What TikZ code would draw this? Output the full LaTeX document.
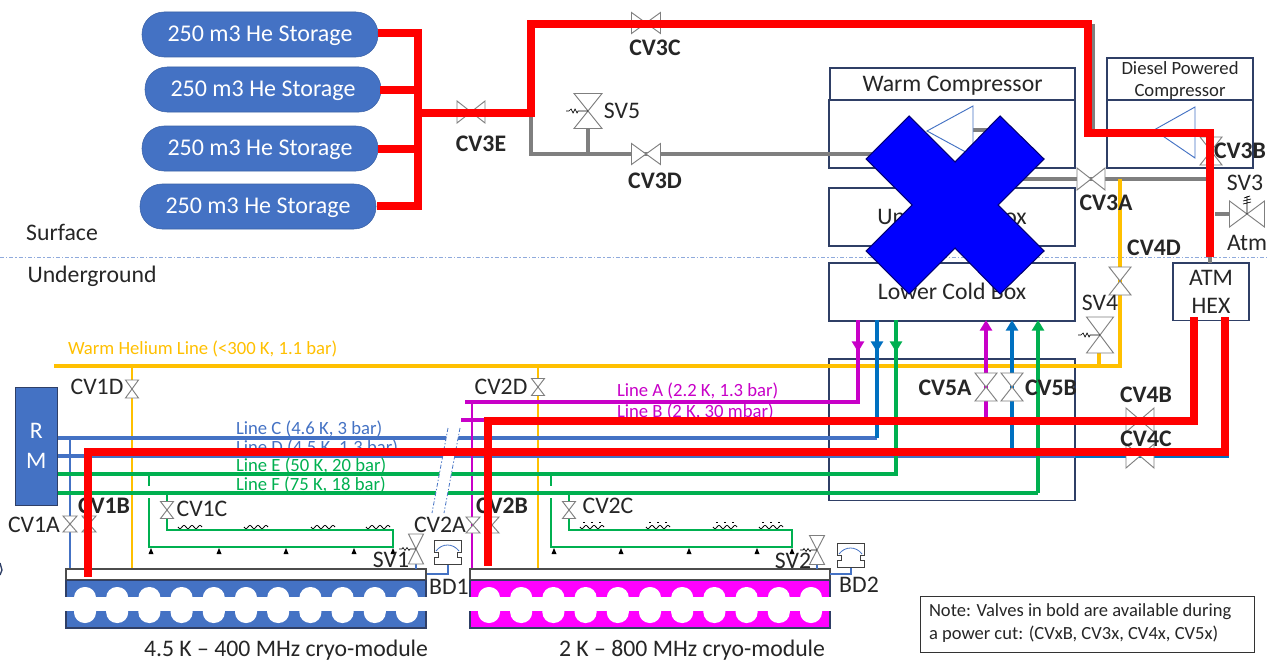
\documentclass[tikz,border=0pt]{standalone}
\usepackage{fontspec}
\setmainfont{Carlito}
\usetikzlibrary{arrows.meta}
\definecolor{cblue}{HTML}{4472C4}
\definecolor{dblue}{HTML}{0070C0}
\definecolor{cgreen}{HTML}{00B050}
\definecolor{cyel}{HTML}{FFC000}
\definecolor{cmag}{HTML}{C800C8}
\definecolor{fmag}{HTML}{FF00FF}
\definecolor{navy}{HTML}{2F3F66}
\definecolor{vgray}{HTML}{7F7F7F}
\definecolor{txt}{HTML}{262626}
\tikzset{
 x=0.75pt,y=-0.75pt,
 every node/.style={inner sep=0pt,outer sep=0pt,text=txt},
 redpipe/.style={draw=red,line width=6pt,line join=miter},
 graypipe/.style={draw=vgray,line width=2.7pt},
 yelpipe/.style={draw=cyel,line width=2.4pt},
 thinyel/.style={draw=cyel,line width=1.5pt},
 bluepipe/.style={draw=cblue,line width=2.4pt},
 dbluepipe/.style={draw=dblue,line width=2.4pt},
 magpipe/.style={draw=cmag,line width=2.4pt},
 greenpipe/.style={draw=cgreen,line width=2.4pt},
 thingreen/.style={draw=cgreen,line width=1.5pt},
 thinblue/.style={draw=cblue,line width=0.8pt},
 thinmag/.style={draw=cmag,line width=1.4pt},
 vlv/.style={draw=vgray,fill=white,line width=0.7pt},
 pbox/.style={draw=navy,fill=white,line width=0.8pt,anchor=north west},
 storage/.style={fill=cblue,draw=cblue!85!black,line width=0.4pt,rounded corners=16.5pt,text=white,font=\fontsize{18}{20}\selectfont,anchor=north west,align=center,text height=12pt,text depth=1pt},
 lbl/.style={font=\fontsize{17.8}{20}\selectfont},
 blbl/.style={font=\bfseries\fontsize{17.8}{20}\selectfont,text=txt},
 ltxt/.style={font=\fontsize{14}{16}\selectfont,yshift=-0.75pt},
 bigt/.style={font=\fontsize{17.8}{20}\selectfont,text height=12pt,text depth=1pt},
 uparrow/.style={-{Triangle[width=9pt,length=8pt]}},
 comp/.style={draw=cblue,fill=white,line width=0.7pt},
 disc/.style={draw=black!75,fill=white,line width=0.7pt},
}
\newcommand{\vh}[5]{\coordinate (#1) at (#2,#3);\draw[vlv] (#2-#4/2,#3-#5/2)--(#2+#4/2,#3+#5/2)--(#2+#4/2,#3-#5/2)--(#2-#4/2,#3+#5/2)--cycle;}
\newcommand{\vv}[5]{\coordinate (#1) at (#2,#3);\draw[vlv] (#2-#4/2,#3-#5/2)--(#2+#4/2,#3-#5/2)--(#2-#4/2,#3+#5/2)--(#2+#4/2,#3+#5/2)--cycle;}
\newcommand{\springleft}[2]{\draw[black,line width=0.5pt] (#1,#2)--(#1-10,#2)--(#1-11,#2+2)--(#1-13,#2-2)--(#1-15,#2+2)--(#1-17,#2-2)--(#1-19,#2)--(#1-22,#2);}
\newcommand{\springsmall}[2]{\draw[black,line width=0.5pt] (#1,#2)--(#1-6,#2)--(#1-7,#2+1.5)--(#1-9,#2-1.5)--(#1-11,#2+1.5)--(#1-13,#2-1.5)--(#1-14,#2)--(#1-17,#2);}
\newcommand{\heater}[2]{\draw[black,line width=0.6pt] plot[variable=\t,domain=0:24,samples=25,smooth] ({#1+\t},{#2+1.6*sin(\t*45)});}
\newcommand{\tick}[2]{\fill[black] (#1-2.5,#2+3)--(#1+2.5,#2+3)--(#1,#2-3)--cycle;}
\newcommand{\burst}[2]{\draw[disc] (#1,#2)--(#1+27,#2)--(#1+27,#2+12)--(#1,#2+12)--cycle;
 \draw[cblue,line width=0.6pt] (#1+2,#2+11) .. controls (#1+8,#2+3) and (#1+19,#2+3) .. (#1+25,#2+11);
 \draw[disc] (#1+4,#2+12)--(#1+4,#2+17)--(#1,#2+17)--(#1,#2+24)--(#1+27,#2+24)--(#1+27,#2+17)--(#1+23,#2+17)--(#1+23,#2+12);}
\begin{document}
\begin{tikzpicture}
\useasboundingbox (0,0) rectangle (1269,660);
\fill[white] (0,0) rectangle (1269,660);
% surface divide
\coordinate (divL) at (0,257); \coordinate (divR) at (1269,257);
\draw[cblue!60,line width=0.7pt,dash pattern=on 3pt off 1.5pt on 1pt off 1.5pt] (divL)--(divR);
\node[bigt] (surf) at (62,233) {Surface};
\node[bigt] (under) at (92,275) {Underground};
% storage
\node[storage,minimum width=177pt,minimum height=33.75pt] (s1) at (142,12) {250 m3 He Storage};
\node[storage,minimum width=177pt,minimum height=33.75pt] (s2) at (145,67) {250 m3 He Storage};
\node[storage,minimum width=177pt,minimum height=33.75pt] (s3) at (142,126) {250 m3 He Storage};
\node[storage,minimum width=177pt,minimum height=33.75pt] (s4) at (140,184) {250 m3 He Storage};
% boxes
\node[pbox,bigt,minimum width=183.75pt,minimum height=24pt] (wc) at (830,68) {Warm Compressor};
\node[pbox,minimum width=184.5pt,minimum height=51pt] (wcb) at (829,100) {};
\node[pbox,bigt,minimum width=184.5pt,minimum height=43.5pt] (ucb) at (829,188) {Upper Cold Box};
\node[pbox,bigt,minimum width=184.5pt,minimum height=43.5pt] (lcb) at (829,263) {Lower Cold Box};
\node[pbox,minimum width=109.5pt,minimum height=31.5pt,align=center,font=\fontsize{14}{16.5}\selectfont] (dc) at (1107,58) {\rule{0pt}{12pt}Diesel Powered\\Compressor};
\node[pbox,minimum width=109.5pt,minimum height=51pt] (dcb) at (1107,100) {};
\node[pbox,minimum width=57pt,minimum height=43pt,align=center,font=\fontsize{17.8}{21}\selectfont] (atm) at (1173,263) {ATM\\HEX};
\node[pbox,fill=none,minimum width=184.5pt,minimum height=106pt] (lowbox) at (829,359) {};
\node[draw=black!80,line width=0.6pt,minimum width=251pt,minimum height=42pt,anchor=north west,fill=white] (note) at (920,596) {};
\node[anchor=west,align=left,font=\fontsize{13.9}{17.2}\selectfont] (notetxt) at (929,623) {Note: Valves in bold are available during\\a power cut: (CVxB, CV3x, CV4x, CV5x)};
% gray pipes
\coordinate (g1) at (531,113); \coordinate (g2) at (531,154); \coordinate (g3) at (905,154);
\coordinate (g4) at (588,154); \coordinate (g5) at (588,128);
\coordinate (g6) at (960,130); \coordinate (g7) at (1000,130);
\coordinate (g8) at (1000,179); \coordinate (g9) at (1210,179);
\coordinate (g10) at (1093,24); \coordinate (g11) at (1093,133);
\coordinate (g12) at (1210,257);
\coordinate (g14) at (1215,214); \coordinate (g15) at (1232,214);
\draw[graypipe] (g1)--(g2)--(g3);
\draw[graypipe] (g4)--(g5);
\draw[graypipe] (g6)--(g7);
\draw[graypipe] (g8)--(g9);
\draw[graypipe] (g10)--(g11);
\draw[graypipe] (g12)--(atm.north -| g12);
\draw[graypipe] (g14)--(g15);
% compressors
\coordinate (t1) at (927,131); \coordinate (t2) at (973,106); \coordinate (t3) at (973,156);
\draw[comp] (t1)--(t2)--(t3)--cycle;
\coordinate (t4) at (1154,130); \coordinate (t5) at (1195,107); \coordinate (t6) at (1195,158);
\draw[comp] (t4)--(t5)--(t6)--cycle;
% yellow
\coordinate (y1) at (54,366); \coordinate (y2) at (1120,366); \coordinate (y3) at (1120,179);
\coordinate (y4) at (132,366); \coordinate (y5) at (132,569);
\coordinate (y6) at (538,366); \coordinate (y7) at (538,568);
\coordinate (y8) at (1099,366); \coordinate (y9) at (1099,350);
\draw[yelpipe] (y1)--(y2)--(y3);
\draw[thinyel] (y4)--(y5);
\draw[thinyel] (y6)--(y7);
\draw[yelpipe] (y8)--(y9);
% blue line C, D
\coordinate (c1) at (58,438); \coordinate (c2) at (877,438); \coordinate (c3) at (877,320); \coordinate (c3a) at (877,352);
\coordinate (d1) at (58,456); \coordinate (d2) at (1227,456); \coordinate (d3) at (1227,450);
\coordinate (d4) at (1012,456); \coordinate (d5) at (1012,320);
\draw[bluepipe] (c1)--(c2);
\draw[dbluepipe] (c2)--(c3);
\draw[dbluepipe,uparrow] (c3)--(c3a);
\draw[bluepipe] (d1)--(d2);
\draw[dbluepipe] (1075,456)--(d2)--(d3);
\draw[dbluepipe,uparrow] (d4)--(d5);
\coordinate (b1) at (70,438); \coordinate (b2) at (70,575);
\draw[thinblue,line width=1pt] (b1)--(b2);
% magenta
\coordinate (m1) at (465,402); \coordinate (m2) at (858,402); \coordinate (m3) at (858,320); \coordinate (m3a) at (858,352);
\coordinate (m4) at (461,420); \coordinate (m5) at (986,420); \coordinate (m6) at (986,320);
\coordinate (m7) at (472,402); \coordinate (m8) at (472,572);
\draw[magpipe] (m1)--(m2)--(m3);
\draw[magpipe,uparrow] (m3)--(m3a);
\draw[magpipe] (m4)--(m5);
\draw[magpipe,uparrow] (m5)--(m6);
\draw[thinmag] (m7)--(m8);
% green
\coordinate (e1) at (58,474); \coordinate (e2) at (896,474); \coordinate (e3) at (896,320); \coordinate (e3a) at (896,352);
\coordinate (f1) at (58,493); \coordinate (f2) at (1038,493); \coordinate (f3) at (1038,320);
\draw[greenpipe] (e1)--(e2)--(e3);
\draw[greenpipe,uparrow] (e3)--(e3a);
\draw[greenpipe] (f1)--(f2);
\draw[greenpipe,uparrow] (f2)--(f3);
% green circuits CM1
\coordinate (p1) at (149,474); \coordinate (p2) at (149,486); \coordinate (p3) at (149,498); \coordinate (p4) at (149,547);
\coordinate (p5) at (393,547); \coordinate (p6) at (393,530); \coordinate (p7) at (167,530); \coordinate (p8) at (167,493);
\draw[thingreen] (p1)--(p2);
\draw[thingreen] (p3)--(p4)--(p5)--(p6)--(p7)--(p8);
% CM2
\coordinate (q1) at (551,474); \coordinate (q2) at (551,486); \coordinate (q3) at (551,498); \coordinate (q4) at (551,547);
\coordinate (q5) at (792,547); \coordinate (q6) at (792,530); \coordinate (q7) at (569,530); \coordinate (q8) at (569,493);
\draw[thingreen] (q1)--(q2);
\draw[thingreen] (q3)--(q4)--(q5)--(q6)--(q7)--(q8);
\foreach \h in {178,244,311,366}{\heater{\h}{527}}
\foreach \h in {580,646,713,759}{\heater{\h}{527}
 \draw[black,line width=0.6pt,dash pattern=on 1.5pt off 4.5pt] (\h+3,522)--(\h+24,522);}
\foreach \h in {151,219,286,354,393,554,621,689,757,792}{\tick{\h}{551}}
% line labels
\node[ltxt,text=cyel,anchor=west] (lw) at (68,348) {Warm Helium Line (<300 K, 1.1 bar)};
\node[ltxt,text=cblue,anchor=west] (lc) at (236,428) {Line C (4.6 K, 3 bar)};
\node[ltxt,text=cblue,anchor=west] (ld) at (236,446.5) {Line D (4.5 K, 1.3 bar)};
\node[ltxt,text=cgreen,anchor=west] (le) at (236,465) {Line E (50 K, 20 bar)};
\node[ltxt,text=cgreen,anchor=west] (lf) at (236,484) {Line F (75 K, 18 bar)};
\node[ltxt,text=cmag,anchor=west] (la) at (617,390) {Line A (2.2 K, 1.3 bar)};
\node[ltxt,text=cmag,anchor=west] (lb) at (617,411) {Line B (2 K, 30 mbar)};
% break
\coordinate (k1) at (448,428); \coordinate (k2) at (432,513); \coordinate (k3) at (460,428); \coordinate (k4) at (444,513);
\fill[white] (k1)--(k3)--(k4)--(k2)--cycle;
\draw[cblue,line width=0.6pt,dash pattern=on 3pt off 1.5pt on 1pt off 1.5pt] (k1)--(k2);
\draw[cblue,line width=0.6pt,dash pattern=on 3pt off 1.5pt on 1pt off 1.5pt] (k3)--(k4);
% RM
\node[fill=cblue,draw=navy,line width=0.6pt,minimum width=32pt,minimum height=88.5pt,anchor=north west,text=white,align=center,font=\fontsize{17.8}{22}\selectfont] (rm) at (15,387) {R\\M};
% cryomodules
\foreach \xo/\colr/\nm in {66/cblue/a,470/fmag/b}{
 \node[draw=navy,fill=\colr,line width=0.8pt,minimum width=270pt,minimum height=36pt,anchor=north west] (body\nm) at (\xo,580) {};
 \fill[white] (\xo-1,597) rectangle (\xo+362,611);
 \foreach \i in {0,...,10}{\fill[white,rounded corners=8pt] (\xo+8+\i*32.2,587) rectangle (\xo+30+\i*32.2,623);}
 \node[draw=black!70,fill=white,line width=0.8pt,minimum width=270pt,minimum height=8pt,anchor=north west] (top\nm) at (\xo,569) {};
}
\node[bigt] (cm1) at (286,649) {4.5 K – 400 MHz cryo-module};
\node[bigt] (cm2) at (692,649) {2 K – 800 MHz cryo-module};
% burst discs
\coordinate (bd1a) at (448,565); \coordinate (bd1b) at (448,574); \coordinate (bd1c) at (427,574);
\coordinate (bd2a) at (851,567); \coordinate (bd2b) at (851,574); \coordinate (bd2c) at (830,574);
\draw[thinblue] (bd1a)--(bd1b)--(bd1c);
\draw[thinblue] (bd2a)--(bd2b)--(bd2c);
\burst{434}{540}
\burst{837}{543}
\coordinate (sv1a) at (416,558); \coordinate (sv1b) at (416,569);
\coordinate (sv2a) at (817,558); \coordinate (sv2b) at (817,569);
\draw[thinblue] (sv1a)--(sv1b);
\draw[thinblue] (sv2a)--(sv2b);
% valves
\vh{cv3e}{471}{112}{28}{22}
\vh{cv3c}{646}{23}{29}{21}
\vh{cv3d}{646}{154}{29}{21}
\vv{sv5}{588}{111}{28}{35}
\springleft{588}{111}
\vv{cv3b}{1211}{151}{22}{28}
\vh{cv3a}{1091}{179}{28}{22}
\vh{sv3}{1247}{214}{35}{26}
\draw[black,line width=0.5pt] (1247,214)--(1247,196) (1243,204)--(1251,202) (1243,201)--(1251,199) (1244,198)--(1250,196);
\vv{cv4d}{1120}{281}{22}{28}
\vv{sv4}{1100}{335}{27}{36}
\springleft{1100}{335}
\vv{cv5a}{986}{387}{22}{28}
\vv{cv5b}{1012}{387}{22}{28}
\vh{cv4b}{1140}{420}{28}{24}
\vh{cv4c}{1140}{456}{28}{24}
\vv{cv1d}{132}{389}{13}{18}
\vv{cv2d}{538}{387}{13}{17}
\vv{cv1a}{70}{524}{14}{16}
\vv{cv1bv}{89}{524}{14}{16}
\vv{cv2a}{473}{525}{14}{16}
\vv{cv2bv}{492}{525}{14}{16}
\vv{cv1c}{167}{510}{13}{17}
\vv{cv2c}{569}{510}{13}{17}
\vv{sv1}{416}{549}{15}{30}
\springsmall{416}{549}
\vv{sv2}{817}{550}{15}{29}
\springsmall{817}{550}
% regular labels
\node[lbl] (tsv5) at (622,111) {SV5};
\node[lbl] (tsv3) at (1245,183) {SV3};
\node[lbl] (tatm) at (1247,243) {Atm};
\node[lbl] (tsv4) at (1100,303) {SV4};
\node[lbl] (tcv1a) at (34,525) {CV1A};
\node[lbl] (tcv1d) at (97,387) {CV1D};
\node[lbl] (tcv2d) at (501,387) {CV2D};
\node[lbl] (tcv1c) at (202,509) {CV1C};
\node[lbl] (tcv2c) at (608,506) {CV2C};
\node[lbl] (tcv2a) at (440,525) {CV2A};
\node[lbl] (tsv1) at (391,560) {SV1};
\node[lbl] (tsv2) at (793,561) {SV2};
\node[lbl] (tbd1) at (449,587) {BD1};
\node[lbl] (tbd2) at (859,585) {BD2};
% bold labels beneath red
\node[blbl] (tcv1b) at (104,506) {CV1B};
\node[blbl] (tcv2b) at (502,506) {CV2B};
% red pipes
\coordinate (r1) at (378,33); \coordinate (r1j) at (418,33);
\coordinate (r2) at (380,90); \coordinate (r2j) at (418,90);
\coordinate (r3) at (378,149); \coordinate (r3j) at (418,149);
\coordinate (r4) at (377,206); \coordinate (r4j) at (418,206);
\coordinate (r5) at (418,113); \coordinate (r6) at (531,113); \coordinate (r7) at (531,24);
\coordinate (r8) at (1088,24); \coordinate (r9) at (1088,133); \coordinate (r10) at (1210,133); \coordinate (r11) at (1210,257);
\coordinate (h1) at (1194,317); \coordinate (h2) at (1194,421); \coordinate (h3) at (488,421); \coordinate (h4) at (488,566);
\coordinate (j1) at (1225,317); \coordinate (j2) at (1225,452); \coordinate (j3) at (88,452); \coordinate (j4) at (88,577);
\draw[redpipe] (r1)--(r1j)--(r4j)--(r4);
\draw[redpipe] (r2)--(r2j);
\draw[redpipe] (r3)--(r3j);
\draw[redpipe] (r5)--(r6)--(r7)--(r8)--(r9)--(r10)--(r11);
\draw[redpipe] (h1)--(h2)--(h3)--(h4);
\draw[redpipe] (j1)--(j2)--(j3)--(j4);
% blue cross
\coordinate (x1) at (909,116); \coordinate (x2) at (955,162); \coordinate (x3) at (1000,116); \coordinate (x4) at (1044,159);
\coordinate (x5) at (998,205); \coordinate (x6) at (1044,251); \coordinate (x7) at (1000,294); \coordinate (x8) at (955,248);
\coordinate (x9) at (909,294); \coordinate (x10) at (866,251); \coordinate (x11) at (912,205); \coordinate (x12) at (866,159);
\draw[fill=blue,draw=blue!45!black,line width=0.8pt] (x1)--(x2)--(x3)--(x4)--(x5)--(x6)--(x7)--(x8)--(x9)--(x10)--(x11)--(x12)--cycle;
% bold labels
\node[blbl] (tcv3e) at (481,144) {CV3E};
\node[blbl] (tcv3c) at (655,48) {CV3C};
\node[blbl] (tcv3d) at (655,181) {CV3D};
\node[blbl] (tcv3a) at (1106,203) {CV3A};
\node[blbl] (tcv3b) at (1240,151) {CV3B};
\node[blbl] (tcv4d) at (1154,248) {CV4D};
\node[blbl] (tcv4b) at (1146,395) {CV4B};
\node[blbl] (tcv4c) at (1146,439) {CV4C};
\node[blbl] (tcv5a) at (945,388) {CV5A};
\node[blbl] (tcv5b) at (1051,388) {CV5B};
% stray glyph fragment at the left edge
\coordinate (st1) at (0,563); \coordinate (st2) at (2,570); \coordinate (st3) at (0,575);
\draw[navy,line width=1pt] (st1)--(st2)--(st3);
\end{tikzpicture}
\end{document}
